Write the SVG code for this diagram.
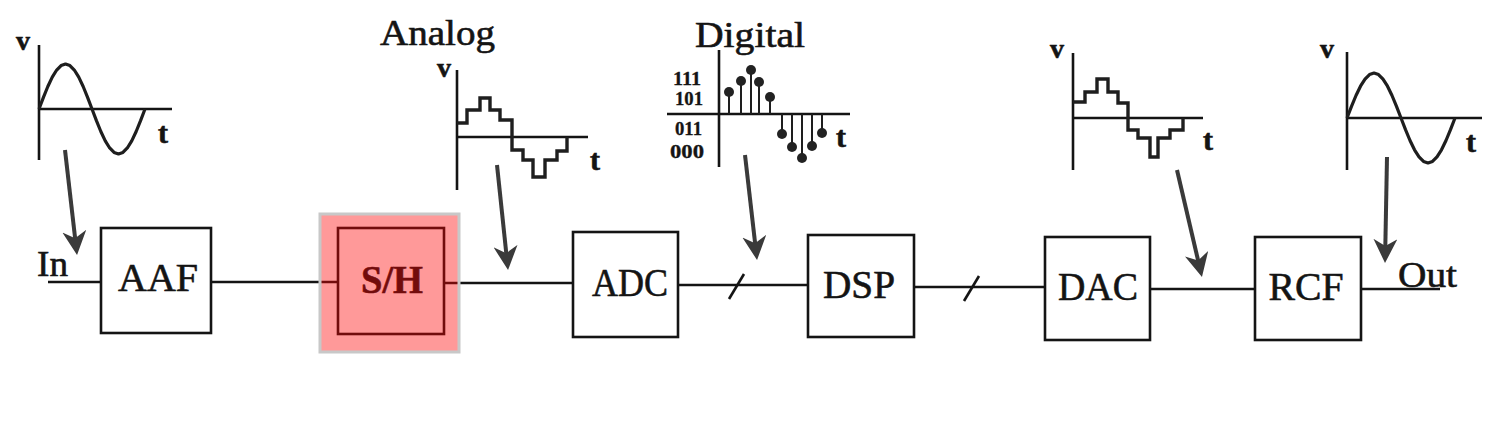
<svg xmlns="http://www.w3.org/2000/svg" width="1500" height="446" viewBox="0 0 1500 446">
<style>
.bg{fill:#ffffff}
.box{fill:#ffffff;stroke:#141414;stroke-width:2.6}
.lbl{font-family:"Liberation Serif","Times New Roman",serif;fill:#141414;stroke:#141414;stroke-width:0.6}
.blk{font-size:40px;text-anchor:middle}
.ttl{font-size:36px}
.ax{fill:none;stroke:#141414;stroke-width:2.6}
.wave{fill:none;stroke:#1e1e1e;stroke-width:3.2;stroke-linejoin:round}
.stair{fill:none;stroke:#1e1e1e;stroke-width:3.4;stroke-linejoin:miter}
.small{font-size:28px;font-weight:bold}
.tl{font-size:30px;font-weight:bold}
.dig{font-size:18px;font-weight:bold;stroke-width:0.3}
.stem{stroke:#1e1e1e;stroke-width:2}
.dot{fill:#222}
.wire{fill:none;stroke:#141414;stroke-width:2.6}
.arr{fill:none;stroke:#3a3a3a;stroke-width:4;marker-end:url(#ah)}
</style>
<defs>
<marker id="ah" viewBox="0 0 24 24" refX="14" refY="12" markerWidth="24" markerHeight="24" markerUnits="userSpaceOnUse" orient="auto">
<path d="M0,0 L24,12 L0,24 L7,12 z" fill="#3a3a3a"/>
</marker>
</defs>
<rect class="bg" x="0" y="0" width="1500" height="446"/>

<g id="connectors">
<line class="wire" x1="48" y1="282" x2="101" y2="282"/>
<line class="wire" x1="211" y1="282" x2="338" y2="282"/>
<line class="wire" x1="444" y1="283" x2="573" y2="283"/>
<line class="wire" x1="678" y1="285" x2="808" y2="285"/>
<line class="wire" x1="729" y1="299" x2="744" y2="274"/>
<line class="wire" x1="914" y1="287" x2="1045" y2="287"/>
<line class="wire" x1="964" y1="301" x2="979" y2="276"/>
<line class="wire" x1="1150" y1="289" x2="1255" y2="289"/>
<line class="wire" x1="1361" y1="289" x2="1440" y2="289"/>
<line class="arr" x1="65" y1="150" x2="75.9" y2="245.1"/>
<line class="arr" x1="497" y1="165" x2="507" y2="260.1"/>
<line class="arr" x1="745" y1="155" x2="755.9" y2="250.1"/>
<line class="arr" x1="1177" y1="170" x2="1199.7" y2="267.3"/>
<line class="arr" x1="1387" y1="157" x2="1385.2" y2="253"/>
</g>

<g id="in-label"><text class="lbl ttl" x="37" y="276" textLength="31" lengthAdjust="spacingAndGlyphs">In</text></g>
<g id="out-label"><text class="lbl ttl" x="1398" y="287" textLength="59" lengthAdjust="spacingAndGlyphs">Out</text></g>

<g id="aaf">
<rect class="box" x="101" y="228" width="110" height="105"/>
<text class="lbl blk" x="158" y="291" textLength="80" lengthAdjust="spacing">AAF</text>
</g>
<g id="sh">
<rect class="box" x="338" y="228" width="106" height="106"/>
<text class="lbl blk" x="392" y="293" font-weight="bold" textLength="62" lengthAdjust="spacingAndGlyphs">S/H</text>
<rect x="320" y="214" width="139" height="138" fill="#ff0000" fill-opacity="0.4" stroke="#c8c8c8" stroke-width="3"/>
</g>
<g id="adc">
<rect class="box" x="573" y="232" width="105" height="105"/>
<text class="lbl blk" x="630" y="296" textLength="76" lengthAdjust="spacingAndGlyphs">ADC</text>
</g>
<g id="dsp">
<rect class="box" x="808" y="235" width="106" height="102"/>
<text class="lbl blk" x="859" y="298" textLength="72" lengthAdjust="spacingAndGlyphs">DSP</text>
</g>
<g id="dac">
<rect class="box" x="1045" y="237" width="105" height="103"/>
<text class="lbl blk" x="1098" y="300" textLength="80" lengthAdjust="spacingAndGlyphs">DAC</text>
</g>
<g id="rcf">
<rect class="box" x="1255" y="237" width="106" height="103"/>
<text class="lbl blk" x="1306" y="300" textLength="75" lengthAdjust="spacingAndGlyphs">RCF</text>
</g>

<g id="plot-input">
<text class="lbl small" x="16" y="50">v</text>
<line class="ax" x1="39" y1="45" x2="39" y2="160"/>
<line class="ax" x1="39" y1="109" x2="172" y2="109"/>
<polyline class="wave" points="39,109 43.42,97.35 47.83,86.5 52.25,77.18 56.67,70.03 61.08,65.53 65.5,64 69.92,65.53 74.33,70.03 78.75,77.18 83.17,86.5 87.58,97.35 92,109 96.42,120.65 100.83,131.5 105.25,140.82 109.67,147.97 114.08,152.47 118.5,154 122.92,152.47 127.33,147.97 131.75,140.82 136.17,131.5 140.58,120.65 145,109"/>
<text class="lbl tl" x="158" y="143">t</text>
</g>

<g id="plot-analog">
<text class="lbl ttl" x="380" y="45" textLength="115" lengthAdjust="spacingAndGlyphs">Analog</text>
<text class="lbl small" x="437" y="77">v</text>
<line class="ax" x1="457" y1="70" x2="457" y2="190"/>
<line class="ax" x1="457" y1="137" x2="588" y2="137"/>
<path class="stair" d="M457,123 H467 V110 H480 V98 H490 V110 H500 V120 H512 V150 H523 V160 H533 V177 H545 V160 H557 V151 H567 V137"/>
<text class="lbl tl" x="590" y="170">t</text>
</g>

<g id="plot-digital">
<text class="lbl ttl" x="695" y="47" textLength="110" lengthAdjust="spacingAndGlyphs">Digital</text>
<line class="ax" x1="719" y1="50" x2="719" y2="167"/>
<line class="ax" x1="667" y1="114" x2="850" y2="114"/>
<text class="lbl dig" x="673" y="85" textLength="28" lengthAdjust="spacingAndGlyphs">111</text>
<text class="lbl dig" x="675" y="105" textLength="28" lengthAdjust="spacingAndGlyphs">101</text>
<text class="lbl dig" x="675" y="135" textLength="27" lengthAdjust="spacingAndGlyphs">011</text>
<text class="lbl dig" x="670" y="158" textLength="34" lengthAdjust="spacingAndGlyphs">000</text>
<line class="stem" x1="729" y1="114" x2="729" y2="92"/>
<line class="stem" x1="741" y1="114" x2="741" y2="81"/>
<line class="stem" x1="751" y1="114" x2="751" y2="70"/>
<line class="stem" x1="759" y1="114" x2="759" y2="82"/>
<line class="stem" x1="770" y1="114" x2="770" y2="97"/>
<line class="stem" x1="782" y1="114" x2="782" y2="134"/>
<line class="stem" x1="792" y1="114" x2="792" y2="147"/>
<line class="stem" x1="802" y1="114" x2="802" y2="158"/>
<line class="stem" x1="812" y1="114" x2="812" y2="146"/>
<line class="stem" x1="822" y1="114" x2="822" y2="133"/>
<circle class="dot" cx="729" cy="92" r="5"/>
<circle class="dot" cx="741" cy="81" r="5"/>
<circle class="dot" cx="751" cy="70" r="5"/>
<circle class="dot" cx="759" cy="82" r="5"/>
<circle class="dot" cx="770" cy="97" r="5"/>
<circle class="dot" cx="782" cy="134" r="5"/>
<circle class="dot" cx="792" cy="147" r="5"/>
<circle class="dot" cx="802" cy="158" r="5"/>
<circle class="dot" cx="812" cy="146" r="5"/>
<circle class="dot" cx="822" cy="133" r="5"/>
<text class="lbl tl" x="836" y="147">t</text>
</g>

<g id="plot-dac">
<text class="lbl small" x="1050" y="58">v</text>
<line class="ax" x1="1073" y1="53" x2="1073" y2="170"/>
<line class="ax" x1="1073" y1="118" x2="1203" y2="118"/>
<path class="stair" d="M1073,102 H1085 V92 H1097 V79 H1108 V92 H1118 V103 H1128 V130 H1138 V138 H1150 V157 H1158 V138 H1170 V130 H1183 V118"/>
<text class="lbl tl" x="1203" y="150">t</text>
</g>

<g id="plot-output">
<text class="lbl small" x="1320" y="58">v</text>
<line class="ax" x1="1347" y1="52" x2="1347" y2="170"/>
<line class="ax" x1="1347" y1="118" x2="1482" y2="118"/>
<polyline class="wave" points="1347,118 1351.5,106.35 1356,95.5 1360.5,86.18 1365,79.03 1369.5,74.53 1374,73 1378.5,74.53 1383,79.03 1387.5,86.18 1392,95.5 1396.5,106.35 1401,118 1405.5,129.65 1410,140.5 1414.5,149.82 1419,156.97 1423.5,161.47 1428,163 1432.5,161.47 1437,156.97 1441.5,149.82 1446,140.5 1450.5,129.65 1455,118"/>
<text class="lbl tl" x="1466" y="152">t</text>
</g>
</svg>
